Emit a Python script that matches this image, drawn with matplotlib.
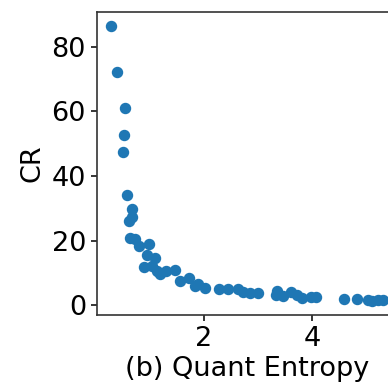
import matplotlib.pyplot as plt

plt.rcParams['font.size'] = 19.5

# quant entropy vs compression ratio
entropy = [0.275, 0.40, 0.54, 0.53, 0.51, 0.57, 0.67, 0.61, 0.67, 0.63,
           0.73, 0.80, 0.98, 0.95, 1.10, 0.90, 1.04, 1.13, 1.19, 1.30,
           1.47, 1.55, 1.73, 1.84, 1.90, 2.02, 2.28, 2.45, 2.63, 2.72,
           2.86, 3.00, 3.36, 3.33, 3.47, 3.61, 3.73, 3.82, 3.98, 4.07,
           4.59, 4.83, 5.03, 5.11, 5.23, 5.32]
cr = [86.5, 72.1, 60.9, 52.6, 47.4, 34.2, 29.8, 26.0, 27.4, 20.9,
      20.4, 18.3, 19.1, 15.7, 14.5, 11.8, 12.1, 10.6, 9.6, 10.6,
      10.9, 7.5, 8.5, 6.0, 6.5, 5.5, 4.9, 4.9, 4.9, 4.1,
      3.7, 3.7, 4.4, 3.1, 2.9, 4.1, 3.1, 2.4, 2.7, 2.7,
      2.1, 2.1, 1.6, 1.3, 1.6, 1.6]

fig = plt.figure(figsize=(3.88, 3.84), dpi=100)
ax = fig.add_axes([0.25, 0.18, 0.773, 0.789])
ax.scatter(entropy, cr, s=52, color='#1f77b4')
ax.set_xticks([2, 4])
ax.set_yticks([0, 20, 40, 60, 80])
ax.set_xlabel('(b) Quant Entropy', labelpad=3)
ax.set_ylabel('CR')
for sp in ax.spines.values():
    sp.set_linewidth(1.2)
    sp.set_color('#333333')
ax.tick_params(length=4.5, width=1.1)

plt.savefig('out.png', dpi=100)
